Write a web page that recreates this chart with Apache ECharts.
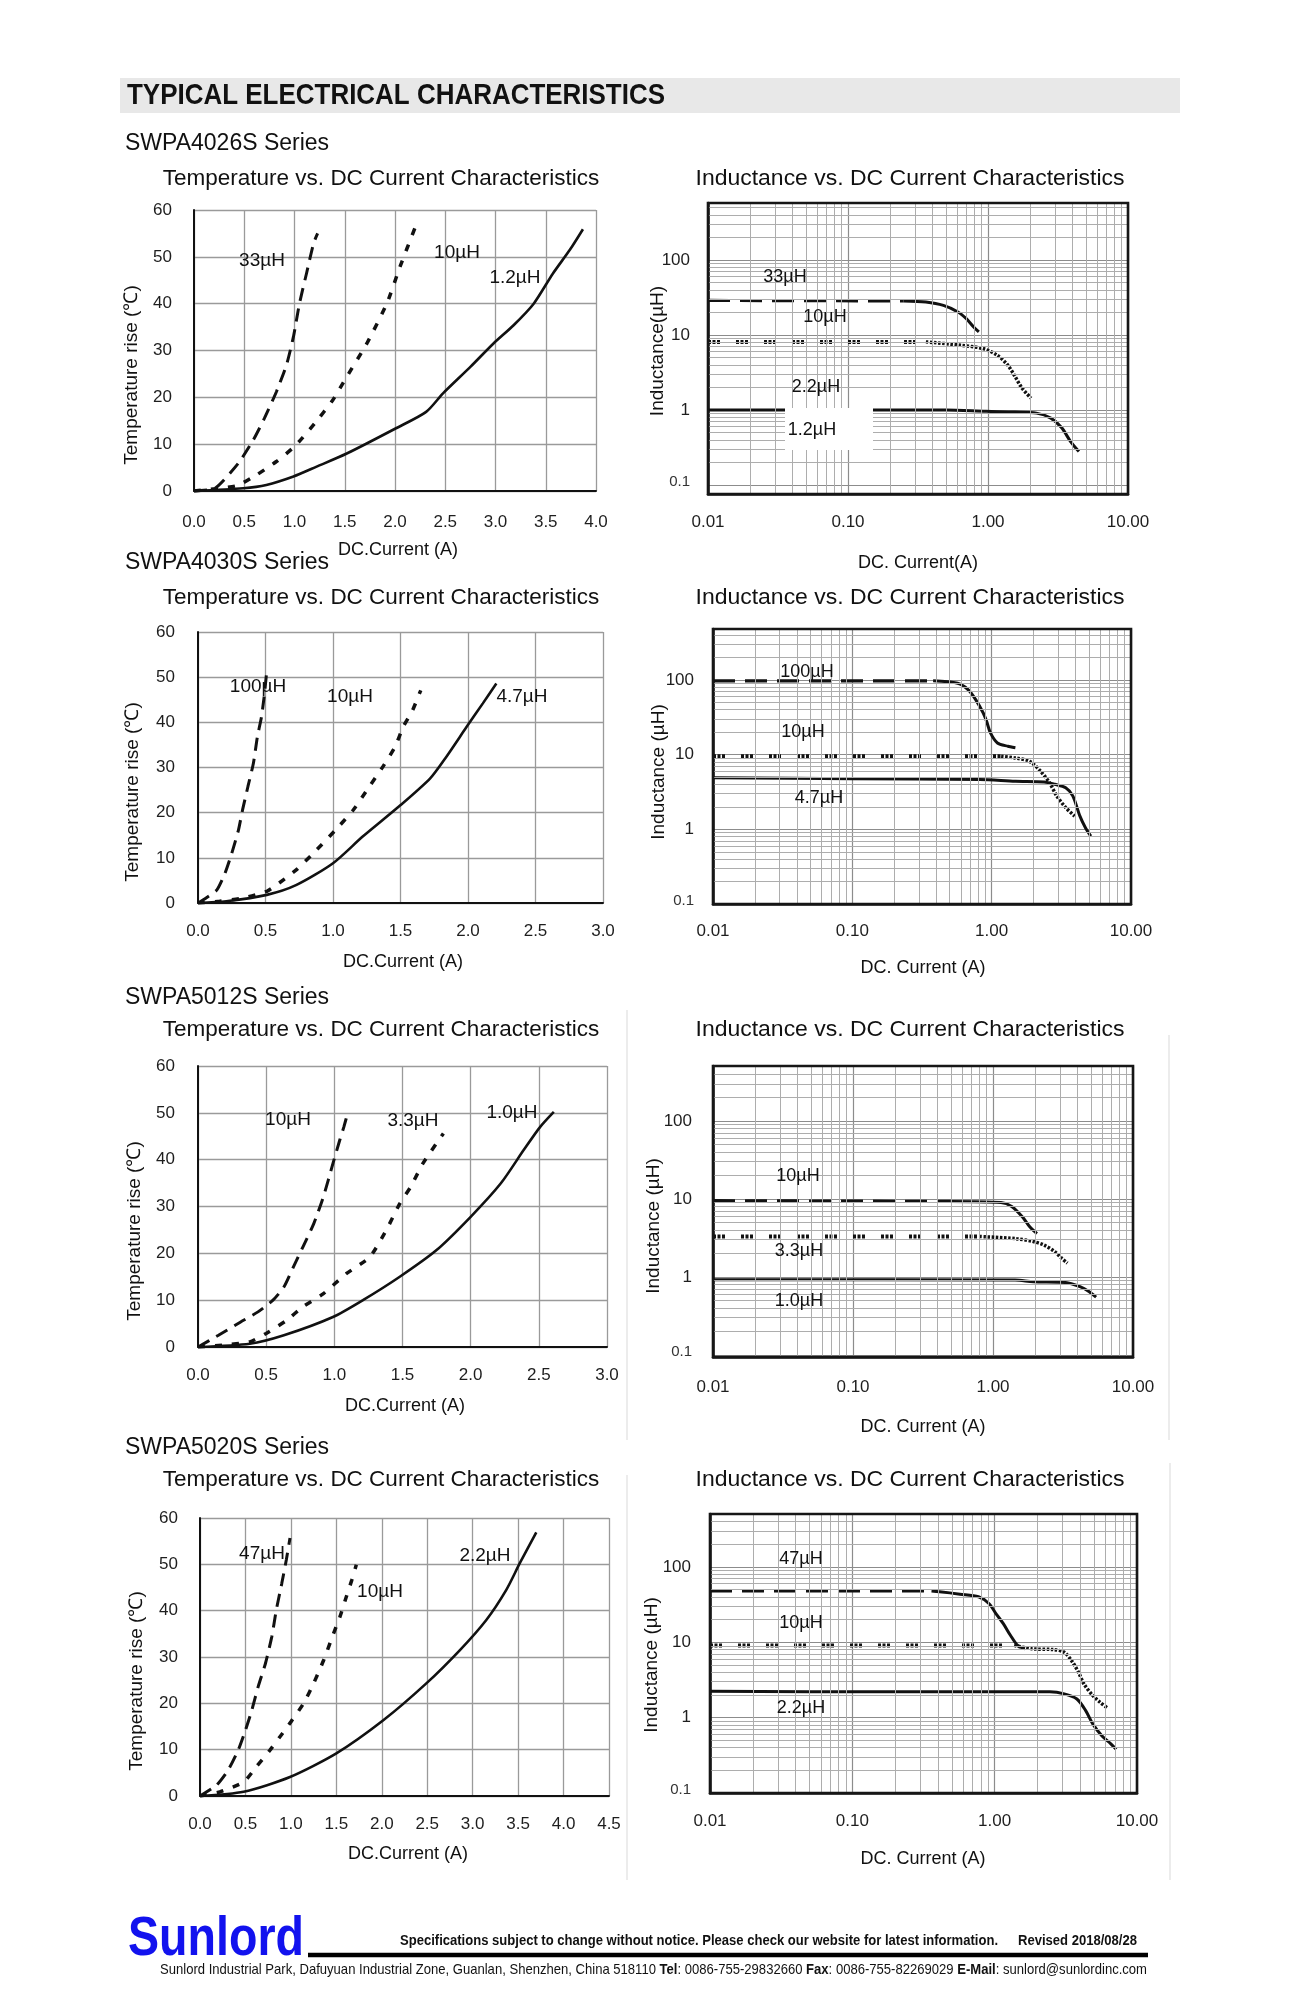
<!DOCTYPE html>
<html><head><meta charset="utf-8">
<script src="https://cdn.jsdelivr.net/npm/echarts@6/dist/echarts.min.js"></script>
<style>html,body{margin:0;padding:0;background:#fff}#c{width:1299px;height:1998px}</style>
</head><body><div id="c"></div>
<script>
// ================= DATA =================
// Temperature rise vs DC current: [current A, temperature rise °C]
const t4026_33uH  = [[0,0],[0.21,0.6],[0.44,5.9],[0.59,10.9],[0.70,15.5],[0.82,21.2],[0.92,26.9],[0.99,33.0],[1.05,40.1],[1.12,46.5],[1.19,52.9],[1.23,55.0]];
const t4026_10uH  = [[0,0],[0.42,1.1],[0.62,3.4],[0.82,6.3],[1.0,9.5],[1.2,14.4],[1.38,19.4],[1.52,24.4],[1.72,31.5],[1.92,40.1],[2.05,47.9],[2.21,56.8]];
const t4026_1p2uH = [[0,0],[0.49,0.6],[0.72,1.3],[0.99,3.1],[1.22,5.2],[1.52,8.0],[2.01,13.4],[2.31,16.9],[2.48,20.9],[2.75,26.5],[2.98,31.5],[3.18,35.4],[3.38,40.0],[3.57,46.4],[3.74,51.5],[3.87,55.9]];

const t4030_100uH = [[0,0],[0.06,1.1],[0.14,2.9],[0.2,6.6],[0.25,11.0],[0.3,16.2],[0.33,20.6],[0.37,25.8],[0.41,30.9],[0.44,36.8],[0.47,41.2],[0.49,45.7],[0.51,51.5]];
const t4030_10uH  = [[0,0],[0.16,0.4],[0.33,1.1],[0.51,2.6],[0.6,4.4],[0.73,7.4],[0.88,11.8],[1.02,16.2],[1.15,20.6],[1.27,25.8],[1.37,30.2],[1.46,34.6],[1.52,39.0],[1.59,42.7],[1.65,47.1]];
const t4030_4p7uH = [[0,0],[0.21,0.4],[0.51,1.8],[0.73,4.0],[1.0,8.8],[1.22,14.7],[1.49,21.4],[1.72,27.6],[1.84,32.4],[1.99,39.0],[2.11,44.2],[2.21,48.6]];

const t5012_10uH  = [[0,0],[0.15,2.5],[0.31,5.3],[0.44,7.5],[0.55,10.0],[0.63,12.8],[0.7,17.1],[0.77,21.4],[0.85,26.4],[0.92,32.1],[0.99,39.2],[1.04,44.2],[1.07,47.0],[1.1,50.2]];
const t5012_3p3uH = [[0,0],[0.18,0.4],[0.38,1.1],[0.5,2.9],[0.65,5.7],[0.77,8.6],[0.92,11.4],[1.09,15.7],[1.26,19.2],[1.38,24.9],[1.48,30.6],[1.56,34.2],[1.65,39.2],[1.8,45.6]];
const t5012_1p0uH = [[0,0],[0.38,0.7],[0.63,2.5],[0.99,6.4],[1.21,10.0],[1.48,15.0],[1.75,20.7],[2.0,27.8],[2.22,34.9],[2.39,42.1],[2.51,47.0],[2.61,50.2]];

const t5020_47uH  = [[0,0],[0.18,2.3],[0.31,5.6],[0.42,9.9],[0.5,14.2],[0.57,18.5],[0.64,23.6],[0.72,28.6],[0.79,34.4],[0.84,40.2],[0.9,45.9],[0.95,51.0],[0.99,55.7]];
const t5020_10uH  = [[0,0],[0.22,0.9],[0.48,3.0],[0.62,6.3],[0.77,9.9],[0.88,12.8],[1.0,16.0],[1.14,20.0],[1.25,24.3],[1.36,29.3],[1.47,35.1],[1.54,38.7],[1.61,43.0],[1.67,46.6],[1.72,49.9]];
const t5020_2p2uH = [[0,0],[0.48,0.9],[0.99,4.1],[1.5,9.2],[2.02,16.4],[2.49,24.3],[2.86,31.5],[3.15,38.0],[3.37,44.5],[3.52,50.3],[3.7,56.9]];

// Inductance vs DC current: [current A, inductance µH]
const L4026_33uH_flat  = [[0.01,28.9],[0.25,28.5]];
const L4026_33uH_roll  = [[0.25,28.5],[0.36,27.5],[0.48,24.8],[0.61,20.3],[0.70,16.5],[0.79,12.8],[0.86,11.0]];
const L4026_10uH_flat  = [[0.01,8.1],[0.36,8.1]];
const L4026_10uH_roll  = [[0.36,8.1],[0.64,7.3],[0.92,6.6],[1.16,5.4],[1.38,4.0],[1.56,2.8],[1.75,1.96],[2.03,1.44]];
const L4026_1p2uH      = [[0.01,1.0],[0.5,1.0],[0.97,0.96],[1.56,0.94],[2.22,0.91],[2.81,0.78],[3.36,0.58],[3.89,0.38],[4.46,0.28]];

const L4030_100uH_flat = [[0.01,97],[0.38,97]];
const L4030_100uH_roll = [[0.38,97],[0.57,90],[0.68,73.6],[0.77,54],[0.87,36],[0.92,27.8],[0.98,19.5],[1.10,14.3],[1.31,12.9],[1.48,12.3]];
const L4030_10uH_flat  = [[0.01,9.5],[1.17,9.5]];
const L4030_10uH_roll  = [[1.17,9.5],[1.48,9.0],[1.87,8.1],[2.24,6.0],[2.6,4.2],[2.93,2.8],[3.4,1.95],[3.94,1.5]];
const L4030_4p7uH      = [[0.01,4.9],[0.1,4.75],[0.82,4.65],[1.48,4.4],[2.38,4.3],[2.84,4.0],[3.4,3.6],[3.82,2.8],[4.3,1.5],[4.71,1.05],[5.15,0.81]];

const L5012_10uH_flat  = [[0.01,9.5],[0.5,9.3]];
const L5012_10uH_roll  = [[0.5,9.3],[1.14,9.0],[1.36,8.0],[1.62,5.9],[1.83,4.4],[2.06,3.6]];
const L5012_3p3uH_flat = [[0.01,3.3],[0.8,3.3]];
const L5012_3p3uH_roll = [[0.8,3.3],[1.44,3.1],[1.94,2.84],[2.31,2.57],[2.76,2.11],[3.1,1.73],[3.4,1.5]];
const L5012_1p0uH      = [[0.01,0.92],[1.44,0.91],[1.94,0.87],[3.3,0.85],[4.18,0.75],[4.84,0.65],[5.45,0.55]];

const L5020_47uH_flat  = [[0.01,48.3],[0.36,48]];
const L5020_47uH_roll  = [[0.36,48],[0.41,47],[0.57,43.6],[0.77,40.2],[0.91,32.8],[1.02,24.1],[1.15,17.7],[1.29,12.4],[1.45,9.1],[1.63,8.2]];
const L5020_10uH_flat  = [[0.01,9.1],[1.37,9.1]];
const L5020_10uH_roll  = [[1.37,9.1],[1.83,8.2],[2.59,8.0],[3.08,7.4],[3.46,5.75],[3.88,4.0],[4.24,2.8],[4.9,1.96],[5.5,1.6],[6.18,1.35]];
const L5020_2p2uH      = [[0.01,2.24],[0.17,2.2],[2.44,2.2],[3.08,2.07],[3.78,1.77],[4.36,1.24],[4.9,0.82],[5.66,0.575],[6.55,0.45],[7.14,0.38]];

// Minor log grid ticks
const minorCurrentTicks = [0.02,0.03,0.04,0.05,0.06,0.07,0.08,0.09,0.2,0.3,0.4,0.5,0.6,0.7,0.8,0.9,2,3,4,5,6,7,8,9];
const minorInductTicks  = [0.2,0.3,0.4,0.5,0.6,0.7,0.8,0.9,2,3,4,5,6,7,8,9,20,30,40,50,60,70,80,90,200,300,400,500];

// ================= LAYOUT / STYLE =================
const FONT = '"Liberation Sans", Arial, Helvetica, sans-serif';
const panels = [
  {kind:'temp', g:[194,210,402,281], xMax:4.0, xm:23, ym:22,
   s:[[t4026_33uH,'tDash'],[t4026_10uH,'tDot'],[t4026_1p2uH,'tSolid']]},
  {kind:'ind', g:[708,203,420,291], yMin:0.076, yMax:575, xm:20, ym:18,
   s:[[L4026_33uH_flat,'iDash'],[L4026_33uH_roll,'iSolid'],[L4026_10uH_flat,'iBead'],[L4026_10uH_roll,'iDots'],[L4026_1p2uH,'iSolid']]},
  {kind:'temp', g:[198,632,405,271], xMax:3.0, xm:20, ym:23,
   s:[[t4030_100uH,'tDash'],[t4030_10uH,'tDot'],[t4030_4p7uH,'tSolid']]},
  {kind:'ind', g:[713,629,418,275], yMin:0.1, yMax:479, xm:19, ym:19,
   s:[[L4030_100uH_flat,'iDash'],[L4030_100uH_roll,'iSolid'],[L4030_10uH_flat,'iBead'],[L4030_10uH_roll,'iDots'],[L4030_4p7uH,'iSolid']]},
  {kind:'temp', g:[198,1066,409,281], xMax:3.0, xm:20, ym:23,
   s:[[t5012_10uH,'tDash'],[t5012_3p3uH,'tDot'],[t5012_1p0uH,'tSolid']]},
  {kind:'ind', g:[713,1066,420,291], yMin:0.094, yMax:507, xm:22, ym:21,
   s:[[L5012_10uH_flat,'iDash'],[L5012_10uH_roll,'iSolid'],[L5012_3p3uH_flat,'iBead'],[L5012_3p3uH_roll,'iDots'],[L5012_1p0uH,'iSolid']]},
  {kind:'temp', g:[200,1518,409,278], xMax:4.5, xm:20, ym:22,
   s:[[t5020_47uH,'tDash'],[t5020_10uH,'tDot'],[t5020_2p2uH,'tSolid']]},
  {kind:'ind', g:[710,1514,427,279], yMin:0.1, yMax:505, xm:20, ym:19,
   s:[[L5020_47uH_flat,'iDash'],[L5020_47uH_roll,'iSolid'],[L5020_10uH_flat,'iBead'],[L5020_10uH_roll,'iDots'],[L5020_2p2uH,'iSolid']]}
];
const LS = {
  tDash:{width:3, type:[13,8], smooth:0.2},
  tDot:{width:3.5, type:[7,10], smooth:0.2},
  tSolid:{width:2.6, type:'solid', smooth:0.25},
  iDash:{width:3.2, type:[22,10], smooth:false},
  iBead:{width:4, type:[3,1.5,3,1.5,3,16], smooth:false},
  iDots:{width:3.5, type:[2.5,1.6], smooth:0.3},
  iSolid:{width:3, type:'solid', smooth:0.3}
};
const isPow10 = v => Math.abs(Math.log10(v) - Math.round(Math.log10(v))) < 1e-6;

const grids = [], xAxes = [], yAxes = [], series = [], graphic = [];
const labelBase = {color:'#1e1e1e', fontSize:17, fontFamily:FONT};
panels.forEach((p, i) => {
  grids.push({left:p.g[0], top:p.g[1], width:p.g[2], height:p.g[3], outerBoundsMode:'none', containLabel:false});
  if (p.kind === 'temp') {
    xAxes.push({type:'value', gridIndex:i, min:0, max:p.xMax, interval:0.5,
      axisLine:{show:true, onZero:false, lineStyle:{color:'#111', width:2}}, axisTick:{show:false},
      splitLine:{show:true, lineStyle:{color:'#9a9a9a', width:1.3}},
      axisLabel:Object.assign({}, labelBase, {margin:p.xm, formatter:v => v.toFixed(1)})});
    yAxes.push({type:'value', gridIndex:i, min:0, max:60, interval:10,
      axisLine:{show:true, onZero:false, lineStyle:{color:'#111', width:2}}, axisTick:{show:false},
      splitLine:{show:true, lineStyle:{color:'#9a9a9a', width:1.3}},
      axisLabel:Object.assign({}, labelBase, {margin:p.ym})});
  } else {
    xAxes.push({type:'log', logBase:10, gridIndex:i, min:0.01, max:10,
      axisLine:{show:true, onZero:false, lineStyle:{color:'#111', width:2.5}}, axisTick:{show:false},
      splitLine:{show:true, lineStyle:{color:'#8c8c8c', width:1.2}},
      axisLabel:Object.assign({}, labelBase, {margin:p.xm, formatter:v => isPow10(v) ? v.toFixed(2) : ''})});
    yAxes.push({type:'log', logBase:10, gridIndex:i, min:p.yMin, max:p.yMax,
      axisLine:{show:true, onZero:false, lineStyle:{color:'#111', width:2.5}}, axisTick:{show:false},
      splitLine:{show:true, lineStyle:{color:'#8c8c8c', width:1.2}},
      axisLabel:Object.assign({}, labelBase, {margin:p.ym,
        formatter:v => !isPow10(v) ? '' : (v < 0.5 ? '{s|0.1}' : String(Math.round(v))),
        rich:{s:{fontSize:15, fontFamily:FONT, color:'#333', padding:[0,0,6,0]}}})});
    const ml = [];
    minorCurrentTicks.forEach(v => ml.push({xAxis:v}));
    minorInductTicks.filter(v => v > p.yMin && v < p.yMax).forEach(v => ml.push({yAxis:v}));
    series.push({type:'line', xAxisIndex:i, yAxisIndex:i, data:[], symbol:'none', silent:true, z:1,
      lineStyle:{opacity:0},
      markLine:{silent:true, symbol:['none','none'], animation:false, label:{show:false},
        lineStyle:{color:'#adadad', width:1, type:'solid'}, emphasis:{disabled:true}, data:ml}});
    graphic.push({type:'rect', z:20, silent:true,
      shape:{x:p.g[0], y:p.g[1], width:p.g[2], height:p.g[3]},
      style:{fill:'none', stroke:'#161616', lineWidth:2.6}});
  }
  p.s.forEach(([data, k]) => {
    const st = LS[k];
    series.push({type:'line', xAxisIndex:i, yAxisIndex:i, data:data, symbol:'none', silent:true,
      smooth:st.smooth, z:3, clip:true,
      lineStyle:{color:'#111', width:st.width, type:st.type, cap:'butt'}});
  });
});

// ---- text helpers ----
const mctx = document.createElement('canvas').getContext('2d');
function measure(font, text){ mctx.font = font; return mctx.measureText(text).width; }
function txt(text, x, y, size, opt){
  opt = opt || {};
  const el = {type:'text', x:x, y:y, z:opt.z || 30, silent:true,
    rotation:opt.rot || 0,
    style:{text:text, fill:opt.color || '#111', font:(opt.bold ? 'bold ' : '') + size + 'px ' + FONT,
      align:opt.align || 'center', verticalAlign:'middle'}};
  if (opt.fitW) el.scaleX = opt.fitW / measure(el.style.font, text);
  graphic.push(el);
}

// Header
graphic.push({type:'rect', z:0, silent:true, shape:{x:120, y:78, width:1060, height:35}, style:{fill:'#e8e8e8'}});
txt('TYPICAL ELECTRICAL CHARACTERISTICS', 127, 96, 30, {bold:true, align:'left', fitW:538});

// Series headings
[['SWPA4026S Series',144],['SWPA4030S Series',563],['SWPA5012S Series',998],['SWPA5020S Series',1448]]
  .forEach(([t,y]) => txt(t, 125, y, 23, {align:'left'}));

// Chart titles
[179,598,1030,1480].forEach(y => {
  txt('Temperature vs. DC Current Characteristics', 381, y, 22.5);
  txt('Inductance vs. DC Current Characteristics', 910, y, 22.5, {fitW:429});
});

// Axis names
[[132,375],[133,792],[135,1231],[137,1681]].forEach(([x,y]) => txt('Temperature rise (℃)', x, y, 19, {rot:Math.PI/2}));
[['Inductance(µH)',658,351],['Inductance (µH)',659,772],['Inductance (µH)',654,1226],['Inductance (µH)',652,1665]]
  .forEach(([t,x,y]) => txt(t, x, y, 19, {rot:Math.PI/2}));
[[398,550],[403,962],[405,1406],[408,1854]].forEach(([x,y]) => txt('DC.Current (A)', x, y, 18));
[['DC. Current(A)',918,563],['DC. Current (A)',923,968],['DC. Current (A)',923,1427],['DC. Current (A)',923,1859]]
  .forEach(([t,x,y]) => txt(t, x, y, 18));

// Curve labels
[['33µH',262,261],['10µH',457,253],['1.2µH',515,278],
 ['100µH',258,687],['10µH',350,697],['4.7µH',522,697],
 ['10µH',288,1120],['3.3µH',413,1121],['1.0µH',512,1113],
 ['47µH',262,1554],['10µH',380,1592],['2.2µH',485,1556]].forEach(([t,x,y]) => txt(t, x, y, 19));
graphic.push({type:'rect', z:25, silent:true, shape:{x:785, y:408, width:88, height:42}, style:{fill:'#fff'}});
[['33µH',785,277],['10µH',825,317],['2.2µH',816,387],['1.2µH',812,430],
 ['100µH',807,672],['10µH',803,732],['4.7µH',819,798],
 ['10µH',798,1176],['3.3µH',799,1251],['1.0µH',799,1301],
 ['47µH',801,1559],['10µH',801,1623],['2.2µH',801,1708]].forEach(([t,x,y]) => txt(t, x, y, 18));

// faint scan frame lines
[[627,1010,627,1440],[1169,1035,1169,1440],[627,1475,627,1880],[1170,1463,1170,1880]].forEach(([x1,y1,x2,y2]) =>
  graphic.push({type:'line', z:0, silent:true, shape:{x1,y1,x2,y2}, style:{stroke:'#e6e6e6', lineWidth:1.5}}));

// Footer
txt('Sunlord', 128, 1940, 56, {bold:true, align:'left', fitW:176, color:'#1212ee'});
graphic.push({type:'line', z:5, silent:true, shape:{x1:308, y1:1955, x2:1148, y2:1955}, style:{stroke:'#000', lineWidth:4.5}});
txt('Specifications subject to change without notice. Please check our website for latest information.', 400, 1941, 14, {bold:true, align:'left', fitW:598});
txt('Revised 2018/08/28', 1018, 1941, 14, {bold:true, align:'left', fitW:119});
(function(){
  const segs = [['n','Sunlord Industrial Park, Dafuyuan Industrial Zone, Guanlan, Shenzhen, China 518110 '],['b','Tel'],
    ['n',': 0086-755-29832660 '],['b','Fax'],['n',': 0086-755-82269029 '],['b','E-Mail'],['n',': sunlord@sunlordinc.com']];
  const fN = '15px ' + FONT, fB = 'bold 15px ' + FONT;
  let w = 0; segs.forEach(([k,t]) => w += measure(k === 'b' ? fB : fN, t));
  graphic.push({type:'text', x:160, y:1970, z:30, silent:true, scaleX:987 / w,
    style:{text:segs.map(([k,t]) => '{' + k + '|' + t + '}').join(''), align:'left', verticalAlign:'middle', fill:'#111',
      rich:{n:{font:fN, fill:'#111'}, b:{font:fB, fill:'#111'}}}});
})();

const chart = echarts.init(document.getElementById('c'), null, {renderer:'canvas'});
chart.setOption({animation:false, backgroundColor:'#fff', grid:grids, xAxis:xAxes, yAxis:yAxes, series:series, graphic:graphic});
</script></body></html>
